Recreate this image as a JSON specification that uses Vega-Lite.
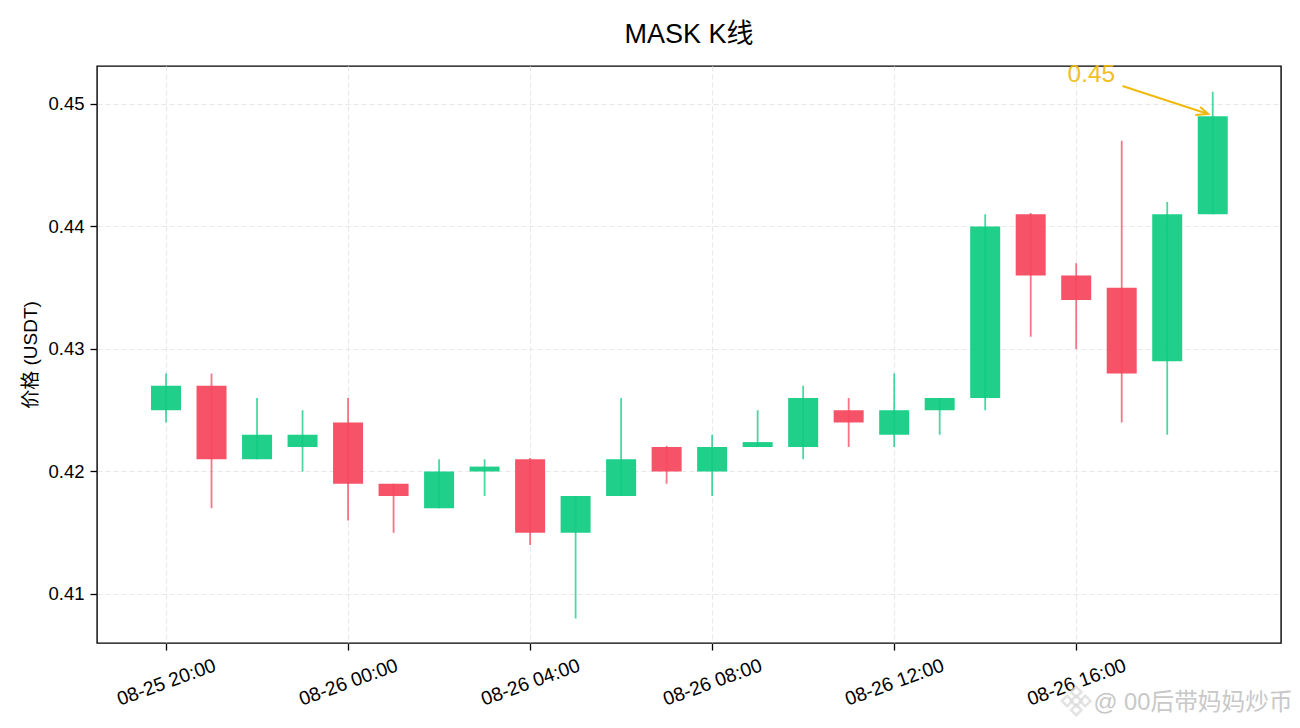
{
  "$schema": "https://vega.github.io/schema/vega-lite/v6.json",
  "description": "MASK candlestick chart with hourly bars.",
  "title": {"text": "MASK K线", "fontSize": 27, "font": "Liberation Sans, Noto Sans CJK SC", "fontWeight": "normal", "color": "#000", "anchor": "middle", "offset": 13},
  "width": 1184,
  "height": 577,
  "autosize": {"type": "pad"},
  "padding": {"left": 21, "top": 20, "right": 0, "bottom": 0},
  "background": "white",
  "data": {"name": "kline"},
  "datasets": {
    "kline": [
      {"time": "2025-08-25T20:00:00Z", "open": 0.425, "high": 0.428, "low": 0.424, "close": 0.427, "dir": "up"},
      {"time": "2025-08-25T21:00:00Z", "open": 0.427, "high": 0.428, "low": 0.417, "close": 0.421, "dir": "down"},
      {"time": "2025-08-25T22:00:00Z", "open": 0.421, "high": 0.426, "low": 0.421, "close": 0.423, "dir": "up"},
      {"time": "2025-08-25T23:00:00Z", "open": 0.422, "high": 0.425, "low": 0.42, "close": 0.423, "dir": "up"},
      {"time": "2025-08-26T00:00:00Z", "open": 0.424, "high": 0.426, "low": 0.416, "close": 0.419, "dir": "down"},
      {"time": "2025-08-26T01:00:00Z", "open": 0.419, "high": 0.419, "low": 0.415, "close": 0.418, "dir": "down"},
      {"time": "2025-08-26T02:00:00Z", "open": 0.417, "high": 0.421, "low": 0.417, "close": 0.42, "dir": "up"},
      {"time": "2025-08-26T03:00:00Z", "open": 0.42, "high": 0.421, "low": 0.418, "close": 0.4204, "dir": "up"},
      {"time": "2025-08-26T04:00:00Z", "open": 0.421, "high": 0.4211, "low": 0.414, "close": 0.415, "dir": "down"},
      {"time": "2025-08-26T05:00:00Z", "open": 0.415, "high": 0.418, "low": 0.408, "close": 0.418, "dir": "up"},
      {"time": "2025-08-26T06:00:00Z", "open": 0.418, "high": 0.426, "low": 0.418, "close": 0.421, "dir": "up"},
      {"time": "2025-08-26T07:00:00Z", "open": 0.422, "high": 0.4221, "low": 0.419, "close": 0.42, "dir": "down"},
      {"time": "2025-08-26T08:00:00Z", "open": 0.42, "high": 0.423, "low": 0.418, "close": 0.422, "dir": "up"},
      {"time": "2025-08-26T09:00:00Z", "open": 0.422, "high": 0.425, "low": 0.422, "close": 0.4224, "dir": "up"},
      {"time": "2025-08-26T10:00:00Z", "open": 0.422, "high": 0.427, "low": 0.421, "close": 0.426, "dir": "up"},
      {"time": "2025-08-26T11:00:00Z", "open": 0.425, "high": 0.426, "low": 0.422, "close": 0.424, "dir": "down"},
      {"time": "2025-08-26T12:00:00Z", "open": 0.423, "high": 0.428, "low": 0.422, "close": 0.425, "dir": "up"},
      {"time": "2025-08-26T13:00:00Z", "open": 0.425, "high": 0.426, "low": 0.423, "close": 0.426, "dir": "up"},
      {"time": "2025-08-26T14:00:00Z", "open": 0.426, "high": 0.441, "low": 0.425, "close": 0.44, "dir": "up"},
      {"time": "2025-08-26T15:00:00Z", "open": 0.441, "high": 0.4411, "low": 0.431, "close": 0.436, "dir": "down"},
      {"time": "2025-08-26T16:00:00Z", "open": 0.436, "high": 0.437, "low": 0.43, "close": 0.434, "dir": "down"},
      {"time": "2025-08-26T17:00:00Z", "open": 0.435, "high": 0.447, "low": 0.424, "close": 0.428, "dir": "down"},
      {"time": "2025-08-26T18:00:00Z", "open": 0.429, "high": 0.442, "low": 0.423, "close": 0.441, "dir": "up"},
      {"time": "2025-08-26T19:00:00Z", "open": 0.441, "high": 0.451, "low": 0.441, "close": 0.449, "dir": "up"}
    ],
    "arrow": [
      {"time": "2025-08-26T17:01:00Z", "price": 0.45147, "part": "shaft", "step": 1},
      {"time": "2025-08-26T18:54:00Z", "price": 0.44918, "part": "shaft", "step": 2},
      {"time": "2025-08-26T18:43:30Z", "price": 0.44976, "part": "head", "step": 1},
      {"time": "2025-08-26T18:54:00Z", "price": 0.44918, "part": "head", "step": 2},
      {"time": "2025-08-26T18:37:00Z", "price": 0.4491, "part": "head", "step": 3}
    ],
    "note": [
      {"time": "2025-08-26T16:20:00Z", "price": 0.45237, "label": "0.45"}
    ],
    "watermark": [
      {"time": "2025-08-26T18:34:00Z", "price": 0.4011, "label": "@ 00后带妈妈炒币"}
    ],
    "logo": [
      {"time": "2025-08-26T16:00:00Z", "price": 0.40127},
      {"time": "2025-08-26T15:48:00Z", "price": 0.40127},
      {"time": "2025-08-26T16:12:00Z", "price": 0.40127},
      {"time": "2025-08-26T16:00:00Z", "price": 0.402},
      {"time": "2025-08-26T16:00:00Z", "price": 0.40053}
    ]
  },
  "encoding": {
    "x": {
      "field": "time",
      "type": "temporal",
      "title": null,
      "scale": {
        "type": "utc",
        "domain": [
          {"year": 2025, "month": 8, "date": 25, "hours": 18, "minutes": 29, "utc": true},
          {"year": 2025, "month": 8, "date": 26, "hours": 20, "minutes": 30, "utc": true}
        ],
        "nice": false,
        "padding": 0
      },
      "axis": {
        "format": "%m-%d %H:%M",
        "values": [
          {"year": 2025, "month": 8, "date": 25, "hours": 20, "utc": true},
          {"year": 2025, "month": 8, "date": 26, "hours": 0, "utc": true},
          {"year": 2025, "month": 8, "date": 26, "hours": 4, "utc": true},
          {"year": 2025, "month": 8, "date": 26, "hours": 8, "utc": true},
          {"year": 2025, "month": 8, "date": 26, "hours": 12, "utc": true},
          {"year": 2025, "month": 8, "date": 26, "hours": 16, "utc": true}
        ],
        "labelAngle": -20,
        "labelAlign": "center",
        "labelBaseline": "middle",
        "labelPadding": 32,
        "labelFontSize": 19.4,
        "labelFont": "Liberation Sans",
        "labelColor": "#000",
        "labelOverlap": false,
        "labelFlush": false,
        "tickColor": "#000",
        "tickSize": 7,
        "tickWidth": 1.3,
        "domain": false,
        "grid": true,
        "gridColor": "#e8e8e8",
        "gridDash": [5, 3],
        "gridWidth": 1.2
      }
    }
  },
  "layer": [
    {
      "mark": {"type": "rule", "strokeWidth": 1.8, "opacity": 0.75},
      "encoding": {
        "y": {
          "field": "low",
          "type": "quantitative",
          "title": "价格 (USDT)",
          "scale": {"domain": [0.406, 0.4531], "nice": false, "zero": false},
          "axis": {
            "values": [0.41, 0.42, 0.43, 0.44, 0.45],
            "format": ".2f",
            "labelFontSize": 18.5,
            "labelFont": "Liberation Sans",
            "labelColor": "#000",
            "labelPadding": 6,
            "tickColor": "#000",
            "tickSize": 7,
            "tickWidth": 1.3,
            "domain": false,
            "grid": true,
            "gridColor": "#e8e8e8",
            "gridDash": [5, 3],
            "gridWidth": 1.2,
            "titleFont": "Liberation Sans, Noto Sans CJK SC",
            "titleFontSize": 19,
            "titleFontWeight": "normal",
            "titleColor": "#000",
            "titlePadding": 7
          }
        },
        "y2": {"field": "high"},
        "color": {
          "field": "dir",
          "type": "nominal",
          "legend": null,
          "scale": {"domain": ["up", "down"], "range": ["#0ecb81", "#f6465d"]}
        }
      }
    },
    {
      "mark": {"type": "bar", "size": 30, "opacity": 0.93},
      "encoding": {
        "y": {"field": "open", "type": "quantitative", "title": "价格 (USDT)"},
        "y2": {"field": "close"},
        "color": {"field": "dir", "type": "nominal", "legend": null}
      }
    },
    {
      "data": {"name": "arrow"},
      "mark": {"type": "line", "color": "#f0b90b", "strokeWidth": 2, "clip": false},
      "encoding": {
        "y": {"field": "price", "type": "quantitative", "title": "价格 (USDT)"},
        "detail": {"field": "part"},
        "order": {"field": "step", "type": "ordinal"}
      }
    },
    {
      "data": {"name": "note"},
      "mark": {"type": "text", "color": "#f0b90b", "fontSize": 24.5, "font": "Liberation Sans", "opacity": 0.9},
      "encoding": {
        "y": {"field": "price", "type": "quantitative", "title": "价格 (USDT)"},
        "text": {"field": "label"}
      }
    },
    {
      "data": {"name": "logo"},
      "mark": {"type": "point", "shape": "diamond", "filled": false, "size": 110, "color": "#dddddd", "strokeWidth": 2.5, "opacity": 0.8},
      "encoding": {
        "y": {"field": "price", "type": "quantitative", "title": "价格 (USDT)"}
      }
    },
    {
      "data": {"name": "watermark"},
      "mark": {"type": "text", "color": "#c8c8c8", "fontSize": 23.7, "font": "Liberation Sans, Noto Sans CJK SC"},
      "encoding": {
        "y": {"field": "price", "type": "quantitative", "title": "价格 (USDT)"},
        "text": {"field": "label"}
      }
    }
  ],
  "config": {
    "view": {"stroke": "#000", "strokeWidth": 1.4}
  }
}
